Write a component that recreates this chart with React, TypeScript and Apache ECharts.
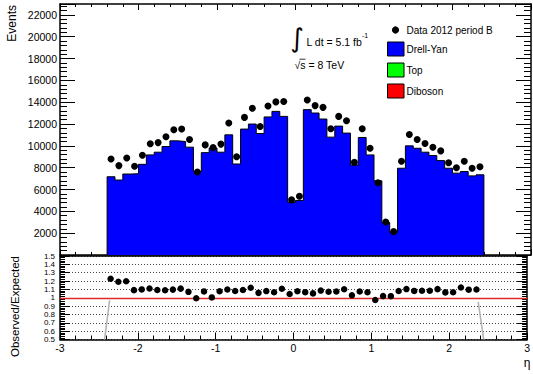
import React, { useEffect, useRef } from "react";
import * as echarts from "echarts";

// Lower edges of the eta bins (bin width 0.1)
const binLow = [
  -2.4, -2.3, -2.2, -2.1, -2.0, -1.9, -1.8, -1.7, -1.6, -1.5, -1.4, -1.3,
  -1.2, -1.1, -1.0, -0.9, -0.8, -0.7, -0.6, -0.5, -0.4, -0.3, -0.2, -0.1,
  0.0, 0.1, 0.2, 0.3, 0.4, 0.5, 0.6, 0.7, 0.8, 0.9, 1.0, 1.1,
  1.2, 1.3, 1.4, 1.5, 1.6, 1.7, 1.8, 1.9, 2.0, 2.1, 2.2, 2.3,
];
const binWidth = 0.1;

// Expected (Drell-Yan) events per bin
const drellYan = [
  7170, 6870, 7420, 7450, 8310, 9170, 9420, 9940, 10460, 10400, 9880, 7650,
  9380, 9800, 9420, 11010, 8340, 11540, 12000, 11130, 12650, 13160, 12700, 4830,
  5000, 13320, 13010, 12460, 10800, 11810, 11170, 8250, 10770, 9170, 6800, 2970,
  2100, 7950, 10000, 9780, 9420, 9110, 8650, 7950, 7500, 7650, 7250, 7350,
];

// Observed events per bin (Data 2012 period B)
const data2012B = [
  8800, 8190, 8890, 8130, 9140, 10190, 10300, 10830, 11480, 11540, 10580, 7600,
  10090, 9840, 10160, 12090, 9010, 12610, 13440, 11780, 13660, 14030, 14060, 5050,
  5390, 14210, 13690, 13530, 11570, 12700, 12300, 8490, 11570, 9780, 6620, 3030,
  2140, 8590, 11040, 10580, 10210, 9880, 9540, 8460, 7990, 8590, 7950, 8080,
];

// Grey edge artefacts seen in the ratio panel
const edgeLeft = [[-2.363, 0.97], [-2.427, 0.5]];
const edgeRight = [[2.372, 0.95], [2.443, 0.5]];

const legendItems = ["Data 2012 period B", "Drell-Yan", "Top", "Diboson"];
const legendColors = ["#000000", "#0000ff", "#00ff00", "#ff0000"];

const FONT = "'Liberation Sans', Arial, Helvetica, sans-serif";

export default function App() {
  const ref = useRef<HTMLDivElement>(null);

  useEffect(() => {
    if (!ref.current) return;
    const chart = echarts.init(ref.current, undefined, { renderer: "svg" });

    const centers = binLow.map((x) => x + binWidth / 2);
    const last = binLow.length - 1;
    const histLine: number[][] = [[binLow[0], 0]];
    binLow.forEach((x, i) => histLine.push([x, drellYan[i]]));
    histLine.push([binLow[last] + binWidth, drellYan[last]]);
    histLine.push([binLow[last] + binWidth, 0]);

    const dataPts = centers.map((c, i) => [c, data2012B[i]]);
    const ratioPts = centers.map((c, i) => [c, data2012B[i] / drellYan[i]]);

    const axisLine = { show: true, onZero: false, lineStyle: { color: "#000", width: 1.5 } };
    const tickStyle = { color: "#000", width: 1 };

    const legendGraphics: any[] = [];
    legendItems.forEach((name, i) => {
      const yc = [30, 49, 70, 91][i];
      if (i === 0) {
        legendGraphics.push({
          type: "circle",
          shape: { cx: 395.5, cy: yc, r: 3.6 },
          style: { fill: legendColors[i] },
        });
      } else {
        legendGraphics.push({
          type: "rect",
          shape: { x: 387.5, y: yc - 7, width: 16.5, height: 14 },
          style: { fill: legendColors[i], stroke: "#000", lineWidth: 1 },
        });
      }
      legendGraphics.push({
        type: "text",
        x: 406.5,
        y: yc,
        style: {
          text: name,
          fontSize: 10,
          fontFamily: FONT,
          fill: "#000",
          align: "left",
          verticalAlign: "middle",
        },
      });
    });

    const option: any = {
      animation: false,
      backgroundColor: "#fff",
      textStyle: { fontFamily: FONT, color: "#000" },
      grid: [
        { left: 60, right: 2, top: 4, height: 251 },
        { left: 60, right: 2, top: 256, height: 83.5 },
      ],
      xAxis: [
        {
          gridIndex: 0,
          type: "value",
          min: -3,
          max: 3,
          interval: 1,
          position: "bottom",
          axisLine,
          axisTick: { inside: true, length: 6, lineStyle: tickStyle },
          minorTick: { show: true, splitNumber: 5, length: 3, lineStyle: tickStyle },
          axisLabel: { show: false },
          splitLine: { show: false },
        },
        {
          gridIndex: 0,
          type: "value",
          min: -3,
          max: 3,
          interval: 1,
          position: "top",
          axisLine,
          axisTick: { inside: true, length: 6, lineStyle: tickStyle },
          minorTick: { show: true, splitNumber: 5, length: 3, lineStyle: tickStyle },
          axisLabel: { show: false },
          splitLine: { show: false },
        },
        {
          gridIndex: 1,
          type: "value",
          min: -3,
          max: 3,
          interval: 1,
          position: "bottom",
          axisLine,
          axisTick: { inside: true, length: 7, lineStyle: tickStyle },
          minorTick: { show: true, splitNumber: 5, length: 4, lineStyle: tickStyle },
          axisLabel: { fontSize: 10.5, color: "#000", margin: 3, fontFamily: FONT },
          splitLine: { show: false },
        },
        {
          gridIndex: 1,
          type: "value",
          min: -3,
          max: 3,
          interval: 1,
          position: "top",
          axisLine,
          axisTick: { show: false },
          axisLabel: { show: false },
          splitLine: { show: false },
        },
      ],
      yAxis: [
        {
          gridIndex: 0,
          type: "value",
          min: 0,
          max: 23000,
          interval: 2000,
          position: "left",
          axisLine,
          axisTick: { inside: true, length: 15, lineStyle: tickStyle },
          minorTick: { show: true, splitNumber: 5, length: 7, lineStyle: tickStyle },
          axisLabel: {
            fontSize: 10.5,
            color: "#000",
            margin: 3,
            fontFamily: FONT,
            formatter: (v: number) => (v > 0 && v % 2000 === 0 ? String(v) : ""),
          },
          splitLine: { show: false },
        },
        {
          gridIndex: 0,
          type: "value",
          min: 0,
          max: 23000,
          interval: 2000,
          position: "right",
          axisLine,
          axisTick: { inside: true, length: 15, lineStyle: tickStyle },
          minorTick: { show: true, splitNumber: 5, length: 7, lineStyle: tickStyle },
          axisLabel: { show: false },
          splitLine: { show: false },
        },
        {
          gridIndex: 1,
          type: "value",
          min: 0.5,
          max: 1.5,
          interval: 0.1,
          position: "left",
          axisLine,
          axisTick: { inside: true, length: 10, lineStyle: tickStyle },
          minorTick: { show: true, splitNumber: 5, length: 5, lineStyle: tickStyle },
          axisLabel: { fontSize: 8, color: "#000", margin: 5, fontFamily: FONT },
          splitLine: { show: true, lineStyle: { color: "#444", width: 1, type: [1, 2] } },
        },
        {
          gridIndex: 1,
          type: "value",
          min: 0.5,
          max: 1.5,
          interval: 0.1,
          position: "right",
          axisLine,
          axisTick: { inside: true, length: 10, lineStyle: tickStyle },
          minorTick: { show: true, splitNumber: 5, length: 5, lineStyle: tickStyle },
          axisLabel: { show: false },
          splitLine: { show: false },
        },
      ],
      series: [
        {
          name: "Drell-Yan",
          type: "line",
          xAxisIndex: 0,
          yAxisIndex: 0,
          step: "end",
          data: histLine,
          symbol: "none",
          lineStyle: { color: "#000", width: 1 },
          areaStyle: { color: "#0000ff", opacity: 1 },
          z: 2,
        },
        {
          name: "Data 2012 period B",
          type: "scatter",
          xAxisIndex: 0,
          yAxisIndex: 0,
          data: dataPts,
          symbol: "circle",
          symbolSize: 7,
          itemStyle: { color: "#000", opacity: 1 },
          z: 5,
        },
        {
          name: "edgeLeft",
          type: "line",
          xAxisIndex: 2,
          yAxisIndex: 2,
          data: edgeLeft,
          symbol: "none",
          lineStyle: { color: "#b4b4b4", width: 1.6 },
          z: 2,
        },
        {
          name: "edgeRight",
          type: "line",
          xAxisIndex: 2,
          yAxisIndex: 2,
          data: edgeRight,
          symbol: "none",
          lineStyle: { color: "#b4b4b4", width: 1.6 },
          z: 2,
        },
        {
          name: "Observed/Expected",
          type: "scatter",
          xAxisIndex: 2,
          yAxisIndex: 2,
          data: ratioPts,
          symbol: "circle",
          symbolSize: 6.5,
          itemStyle: { color: "#000", opacity: 1 },
          z: 5,
          markLine: {
            silent: true,
            symbol: ["none", "none"],
            label: { show: false },
            lineStyle: { color: "#e02828", width: 1.3, type: "solid" },
            data: [{ yAxis: 1 }],
          },
        },
      ],
      graphic: [
        {
          type: "text",
          x: 12,
          y: 5,
          rotation: Math.PI / 2,
          style: {
            text: "Events",
            fontSize: 12,
            fontFamily: FONT,
            fill: "#000",
            align: "right",
            verticalAlign: "middle",
          },
        },
        {
          type: "text",
          x: 15,
          y: 256,
          rotation: Math.PI / 2,
          style: {
            text: "Observed/Expected",
            fontSize: 11.5,
            fontFamily: FONT,
            fill: "#000",
            align: "right",
            verticalAlign: "middle",
          },
        },
        {
          type: "text",
          x: 527,
          y: 363,
          style: {
            text: "η",
            fontSize: 12,
            fontFamily: FONT,
            fill: "#000",
            align: "center",
            verticalAlign: "middle",
          },
        },
        {
          type: "text",
          x: 297,
          y: 38,
          style: {
            text: "∫",
            fontSize: 26,
            fontFamily: "'DejaVu Sans', sans-serif",
            fill: "#000",
            align: "center",
            verticalAlign: "middle",
          },
        },
        {
          type: "text",
          x: 306.5,
          y: 42,
          style: {
            text: "L dt = 5.1 fb",
            fontSize: 10.5,
            fontFamily: FONT,
            fill: "#000",
            align: "left",
            verticalAlign: "middle",
          },
        },
        {
          type: "text",
          x: 362,
          y: 35.5,
          style: {
            text: "-1",
            fontSize: 7,
            fontFamily: FONT,
            fill: "#000",
            align: "left",
            verticalAlign: "middle",
          },
        },
        {
          type: "text",
          x: 294.5,
          y: 65,
          style: {
            text: "√s = 8 TeV",
            fontSize: 10.5,
            fontFamily: FONT,
            fill: "#000",
            align: "left",
            verticalAlign: "middle",
          },
        },
        {
          type: "line",
          shape: { x1: 299.5, y1: 59.2, x2: 305.5, y2: 59.2 },
          style: { stroke: "#000", lineWidth: 0.8 },
        },
        ...legendGraphics,
      ],
    };

    chart.setOption(option);
    return () => chart.dispose();
  }, []);

  return (
    <div
      ref={ref}
      style={{ position: "fixed", left: 0, top: 0, width: 533, height: 374, background: "#fff" }}
    />
  );
}
